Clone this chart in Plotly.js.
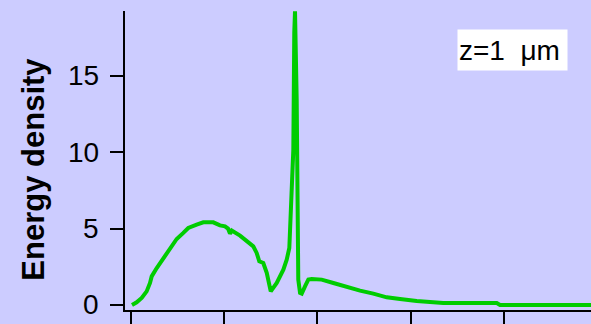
<!DOCTYPE html>
<html>
<head>
<meta charset="utf-8">
<script src="https://cdn.plot.ly/plotly-3.0.1.min.js"></script>
<style>
html,body{margin:0;padding:0;background:#ccccff;}
#chart{width:591px;height:324px;}
</style>
</head>
<body>
<div id="chart"></div>
<script>
const xValues = [0.014,0.064,0.118,0.171,0.207,0.225,0.279,0.349,0.421,0.493,0.564,0.617,0.707,0.778,0.885,0.957,1.011,1.043,1.064,1.083,1.172,1.243,1.314,1.350,1.378,1.421,1.458,1.501,1.565,1.636,1.672,1.700,1.715,1.726,1.743,1.753,1.761,1.779,1.790,1.796,1.815,1.833,1.868,1.904,1.940,2.047,2.172,2.315,2.458,2.600,2.744,2.886,3.065,3.350,3.923,3.958,5.03];
const energyDensity = [0,0.17,0.46,0.89,1.44,1.87,2.42,3.08,3.73,4.32,4.72,5.04,5.26,5.41,5.41,5.21,5.15,5.0,4.67,4.87,4.54,4.23,3.84,3.41,2.86,2.75,2.10,0.89,1.44,2.31,2.97,3.73,6.04,6.90,10.17,17.83,19.23,13.45,6.90,1.66,0.79,0.74,1.22,1.66,1.70,1.66,1.44,1.18,0.94,0.74,0.50,0.39,0.26,0.13,0.13,0,0];
const yTicks = [0,5,10,15];
const yTickLabels = ['0','5','10','15'];
const xTicks = [0,1,2,3,4];
const yTitle = 'Energy density';
const labelText = 'z=1\u00a0\u00a0\u03bcm';

const font = "'Liberation Sans', Arial, sans-serif";
const trace = {
  x: xValues, y: energyDensity, type: 'scatter', mode: 'lines',
  line: {color: 'rgb(0,204,0)', width: 4}, hoverinfo: 'skip'
};
const tickAnnots = yTicks.map((v, i) => ({
  text: yTickLabels[i], xref: 'paper', yref: 'y', x: -0.0536, y: v,
  xanchor: 'right', yanchor: 'middle', showarrow: false, borderpad: 0,
  font: {family: font, size: 28, color: '#000'}
}));
const layout = {
  width: 591, height: 324,
  margin: {l: 125, r: 0, t: 11, b: 14, pad: 0},
  paper_bgcolor: '#ccccff', plot_bgcolor: '#ccccff',
  showlegend: false,
  xaxis: {
    range: [-0.061, 4.933], tickvals: xTicks, showticklabels: false,
    ticks: 'outside', ticklen: 16, tickwidth: 2, tickcolor: '#000',
    showline: true, linewidth: 2, linecolor: '#000',
    showgrid: false, zeroline: false
  },
  yaxis: {
    range: [-0.33, 19.25], tickvals: yTicks, showticklabels: false,
    ticks: 'outside', ticklen: 13, tickwidth: 2, tickcolor: '#000',
    showline: true, linewidth: 2, linecolor: '#000',
    showgrid: false, zeroline: false
  },
  annotations: tickAnnots.concat([
    {text: yTitle, xref: 'paper', yref: 'paper', x: -0.197, y: 0.47,
     xanchor: 'center', yanchor: 'middle', textangle: -90, showarrow: false,
     font: {family: font, size: 31, color: '#000', weight: 'bold'}},
    {text: labelText, xref: 'paper', yref: 'paper', x: 0.7124, y: 0.94,
     xanchor: 'left', yanchor: 'top', showarrow: false, bgcolor: '#ffffff',
     borderpad: 1, width: 107, height: 38, align: 'left', valign: 'middle',
     font: {family: font, size: 28, color: '#000'}}
  ])
};
Plotly.newPlot('chart', [trace], layout, {displayModeBar: false, staticPlot: true});
</script>
</body>
</html>
